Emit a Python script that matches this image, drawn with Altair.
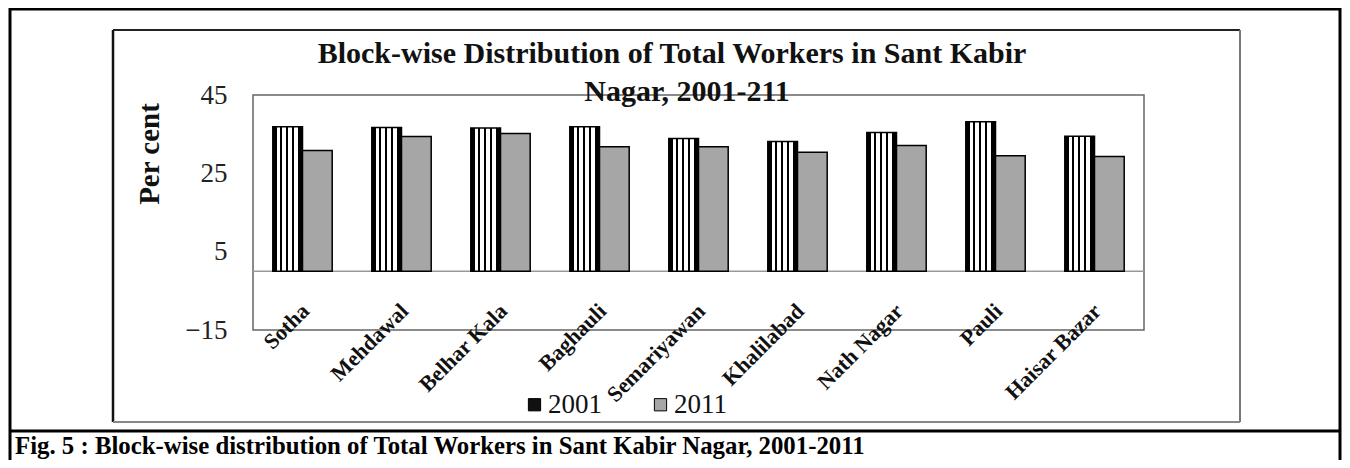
import altair as alt
import pandas as pd

blocks = ["Sotha", "Mehdawal", "Belhar Kala", "Baghauli", "Semariyawan",
          "Khalilabad", "Nath Nagar", "Pauli", "Haisar Bazar"]
years = ["2001", "2011"]
w2001 = [36.9, 36.7, 36.6, 36.9, 33.9, 33.1, 35.4, 38.2, 34.5]
w2011 = [30.8, 34.4, 35.2, 31.8, 31.8, 30.4, 32.1, 29.5, 29.3]
y_ticks = [45, 25, 5, -15]
title_lines = ["Block-wise Distribution of Total Workers in Sant Kabir", "Nagar, 2001-211"]
y_title = "Per cent"
caption = "Fig. 5 : Block-wise distribution of Total Workers in Sant Kabir Nagar, 2001-2011"

rows = []
for b, v1, v2 in zip(blocks, w2001, w2011):
    rows.append({"block": b, "year": "2001", "value": v1})
    rows.append({"block": b, "year": "2011", "value": v2})
df = pd.DataFrame(rows)
one = pd.DataFrame({"k": [0]})

FONT = "Liberation Serif"

# vertical stripe pattern via hard-stop gradient
pattern = [(0.0, "#000"), (0.14, "#000"), (0.14, "#fff"), (0.24, "#fff"), (0.24, "#000"),
           (0.32, "#000"), (0.32, "#fff"), (0.44, "#fff"), (0.44, "#000"), (0.52, "#000"),
           (0.52, "#fff"), (0.64, "#fff"), (0.64, "#000"), (0.72, "#000"), (0.72, "#fff"),
           (0.84, "#fff"), (0.84, "#000"), (1.0, "#000")]
stripes = {"gradient": "linear", "x1": 0, "x2": 1, "y1": 0, "y2": 0,
           "stops": [{"offset": o, "color": c} for o, c in pattern]}

x_enc = alt.X("block:N", sort=blocks,
              scale=alt.Scale(paddingInner=0.4, paddingOuter=0.2),
              axis=alt.Axis(title=None, labelAngle=-45, labelAlign="right", labelBaseline="top",
                            labelPadding=-30, labelOffset=-4, ticks=False, tickSize=0, domain=False,
                            labelFont=FONT, labelFontSize=22, labelFontWeight="bold",
                            labelColor="#111", labelLimit=300))
y_enc = alt.Y("value:Q", scale=alt.Scale(domain=[-15, 45], nice=False, zero=False),
              axis=alt.Axis(values=y_ticks, title=None, grid=False, ticks=False, domain=False,
                            labelFont=FONT, labelFontSize=27, labelPadding=26, labelColor="#222"))
xo = alt.XOffset("year:N", scale=alt.Scale(domain=years))

base = alt.Chart(df)

bars01 = base.transform_filter(alt.datum.year == "2001").mark_bar(
    fill=stripes, stroke="black", strokeWidth=1.5
).encode(x=x_enc, y=y_enc, xOffset=xo)

bars11 = base.transform_filter(alt.datum.year == "2011").mark_bar(
    stroke="black", strokeWidth=1.5
).encode(
    x=x_enc, y=y_enc, xOffset=xo,
    fill=alt.Fill("year:N", scale=alt.Scale(domain=years, range=["#111111", "#a6a6a6"]),
                  legend=alt.Legend(orient="none", legendX=268, legendY=296, direction="horizontal",
                                    title=None, symbolType="square", symbolSize=150,
                                    symbolStrokeColor="black", symbolStrokeWidth=1,
                                    symbolOpacity=1, labelFont=FONT, labelFontSize=27,
                                    labelFontWeight="normal",
                                    labelColor="#111", columnPadding=45, labelOffset=0))
)

zero = alt.Chart(one).mark_rule(color="#999", strokeWidth=1.5).encode(y=alt.datum(0))

# decorations (frames, title, caption)
outer = alt.Chart(one).mark_rect(fill=None, stroke="black", strokeWidth=3).encode(
    x=alt.value(-243), x2=alt.value(1087), y=alt.value(-86), y2=alt.value(390))
divider = alt.Chart(one).mark_rule(color="black", strokeWidth=3).encode(
    x=alt.value(-243), x2=alt.value(1087), y=alt.value(336))
inner_l = alt.Chart(one).mark_rule(color="#111", strokeWidth=2.5).encode(
    x=alt.value(-140), y=alt.value(-65), y2=alt.value(327))
inner_t = alt.Chart(one).mark_rule(color="#222", strokeWidth=2).encode(
    x=alt.value(-140), x2=alt.value(987), y=alt.value(-65))
inner_r = alt.Chart(one).mark_rule(color="#777", strokeWidth=2).encode(
    x=alt.value(987), y=alt.value(-65), y2=alt.value(327))
inner_b = alt.Chart(one).mark_rule(color="#888", strokeWidth=2).encode(
    x=alt.value(-140), x2=alt.value(987), y=alt.value(327))

t1 = alt.Chart(one).mark_text(font=FONT, fontSize=30, fontWeight="bold", color="#111",
                              align="center", baseline="middle").encode(
    x=alt.value(419), y=alt.value(-41), text=alt.value(title_lines[0]))
t2 = alt.Chart(one).mark_text(font=FONT, fontSize=30, fontWeight="bold", color="#111",
                              align="center", baseline="middle").encode(
    x=alt.value(434), y=alt.value(-3), text=alt.value(title_lines[1]))
ytitle = alt.Chart(one).mark_text(font=FONT, fontSize=29, fontWeight="bold", color="#111",
                                  align="center", baseline="middle", angle=270).encode(
    x=alt.value(-103), y=alt.value(59), text=alt.value(y_title))
cap = alt.Chart(one).mark_text(font=FONT, fontSize=24.8, fontWeight="bold", color="#000",
                               align="left", baseline="middle").encode(
    x=alt.value(-238), y=alt.value(352), text=alt.value(caption))

chart = alt.layer(
    outer, divider, inner_l, inner_t, inner_r, inner_b,
    zero, bars01, bars11, t1, t2, ytitle, cap
).properties(
    width=891, height=235,
    autosize=alt.AutoSizeParams(type="none"),
    padding={"left": 245, "top": 87, "right": 198, "bottom": 130},
    background="white",
).configure(
    font=FONT, style={"guide-label": {"font": FONT}}
).configure_view(stroke="#666", strokeWidth=1.5).configure_legend(
    labelFont=FONT, labelFontSize=27
)

chart.save("out.html", embed_options={"renderer": "svg", "actions": False})
